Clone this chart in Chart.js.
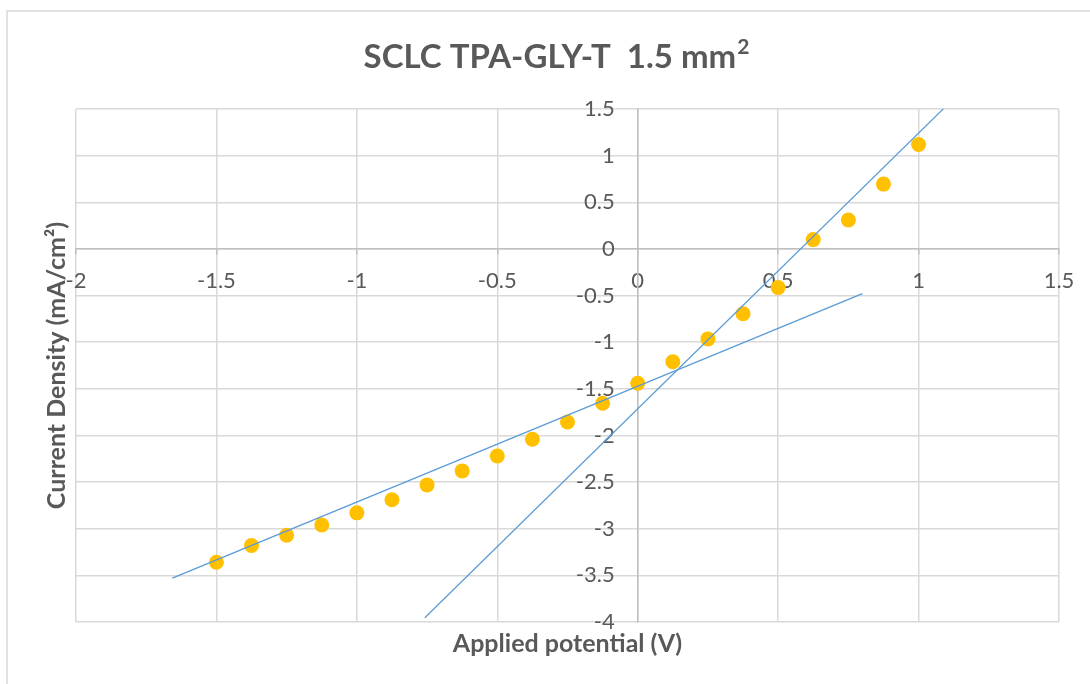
<!DOCTYPE html>
<html>
<head>
<meta charset="utf-8">
<script src="https://cdn.jsdelivr.net/npm/chart.js@4/dist/chart.umd.min.js"></script>
<style>
    html, body { margin: 0; padding: 0; background: #ffffff; }
    #wrap { position: relative; width: 1090px; height: 684px; overflow: hidden; }
</style>
</head>
<body>
<div id="wrap"><canvas id="sclcCanvas" width="1090" height="684"></canvas></div>
<script>
// measured points (V, mA/cm2)
const voltage = [-1.5, -1.375, -1.25, -1.125, -1, -0.875, -0.75, -0.625, -0.5, -0.375, -0.25, -0.125,
    0, 0.125, 0.25, 0.375, 0.5, 0.625, 0.75, 0.875, 1];
const currentDensity = [-3.36, -3.18, -3.07, -2.96, -2.83, -2.69, -2.53, -2.38, -2.22, -2.04, -1.855, -1.655,
    -1.44, -1.21, -0.965, -0.695, -0.415, 0.1, 0.31, 0.695, 1.12];

// linear trendlines, start and end points
const lowFitX = [-1.657, 0.8];
const lowFitY = [-3.53, -0.48];
const highFitX = [-0.758, 1.101];
const highFitY = [-3.955, 1.54];

const xTicks = [-2, -1.5, -1, -0.5, 0, 0.5, 1, 1.5];
const yTicks = [-4, -3.5, -3, -2.5, -2, -1.5, -1, -0.5, 0, 0.5, 1, 1.5];

const chartTitle = "SCLC TPA-GLY-T  1.5 mm";
const chartTitleSup = "2";
const xTitle = "Applied potential (V)";
const yTitle = "Current Density (mA/cm\u00B2)";

const textColor = "#595959";
const yLabelGap = 23;

function toPoints(xs, ys) {
    return xs.map((x, i) => ({ x: x, y: ys[i] }));
}

const excelText = {
    id: "excelText",
    beforeDraw(chart) {
        const ctx = chart.ctx;
        ctx.save();
        ctx.strokeStyle = "#D9D9D9";
        ctx.lineWidth = 1.5;
        ctx.strokeRect(7, 11, 1400, 1000);
        ctx.restore();
        // y labels sit left of the x=0 axis line; padding is not applied there
        chart.scales.y.getLabelItems().forEach((item) => {
            item.options.translation[0] -= yLabelGap;
        });
    },
    afterDraw(chart) {
        const ctx = chart.ctx;
        const area = chart.chartArea;
        ctx.save();
        ctx.fillStyle = textColor;

        // title with superscript
        ctx.font = "bold 33px Lato";
        const mainW = ctx.measureText(chartTitle).width;
        ctx.font = "bold 21px Lato";
        const supW = ctx.measureText(chartTitleSup).width;
        const titleLeft = 556 - (mainW + supW) / 2;
        ctx.textBaseline = "alphabetic";
        ctx.textAlign = "left";
        ctx.font = "bold 33px Lato";
        ctx.fillText(chartTitle, titleLeft, 68);
        ctx.font = "bold 21px Lato";
        ctx.fillText(chartTitleSup, titleLeft + mainW + 1, 54);

        // x axis title
        ctx.font = "bold 25px Lato";
        ctx.textAlign = "center";
        ctx.textBaseline = "middle";
        ctx.fillText(xTitle, (area.left + area.right) / 2, 644);

        // y axis title
        ctx.translate(57, (area.top + area.bottom) / 2);
        ctx.rotate(-Math.PI / 2);
        ctx.fillText(yTitle, 0, 0);
        ctx.restore();
    }
};

const data = {
    datasets: [
        {
            label: "high field fit",
            type: "line",
            data: toPoints(highFitX, highFitY),
            borderColor: "#5B9BD5",
            borderWidth: 1.25,
            pointRadius: 0,
            fill: false,
        },
        {
            label: "low field fit",
            type: "line",
            data: toPoints(lowFitX, lowFitY),
            borderColor: "#5B9BD5",
            borderWidth: 1.25,
            pointRadius: 0,
            fill: false,
        },
        {
            label: "J-V",
            data: toPoints(voltage, currentDensity),
            backgroundColor: "#FFC000",
            borderColor: "#FFC000",
            borderWidth: 0,
            pointRadius: 7.5,
        },
    ],
};

const config = {
    type: "scatter",
    data: data,
    options: {
        responsive: false,
        animation: false,
        layout: { padding: { left: 76, right: 31, top: 109, bottom: 62 } },
        plugins: {
            legend: { display: false },
            tooltip: { enabled: false },
        },
        scales: {
            x: {
                type: "linear",
                position: { y: 0 },
                min: -2,
                max: 1.5,
                afterBuildTicks: (axis) => {
                    axis.ticks = xTicks.map((v) => ({ value: v }));
                },
                grid: {
                    color: "#D9D9D9",
                    lineWidth: 1.5,
                    drawTicks: true,
                    tickLength: 5,
                    tickColor: "#BFBFBF",
                },
                border: { color: "#BFBFBF", width: 1.5 },
                ticks: {
                    color: textColor,
                    font: { family: "Lato", size: 22 },
                    padding: 14,
                    maxRotation: 0,
                    autoSkip: false,
                    callback: (v) => String(v),
                },
            },
            y: {
                type: "linear",
                position: { x: 0 },
                min: -4,
                max: 1.5,
                afterBuildTicks: (axis) => {
                    axis.ticks = yTicks.map((v) => ({ value: v }));
                },
                grid: {
                    color: "#D9D9D9",
                    lineWidth: 1.5,
                    drawTicks: false,
                },
                border: { color: "#BFBFBF", width: 1.5 },
                ticks: {
                    color: textColor,
                    font: { family: "Lato", size: 22 },
                    autoSkip: false,
                    callback: (v) => String(v),
                },
            },
        },
    },
    plugins: [excelText],
};

const sclcChart = new Chart(document.getElementById("sclcCanvas"), config);
</script>
</body>
</html>
